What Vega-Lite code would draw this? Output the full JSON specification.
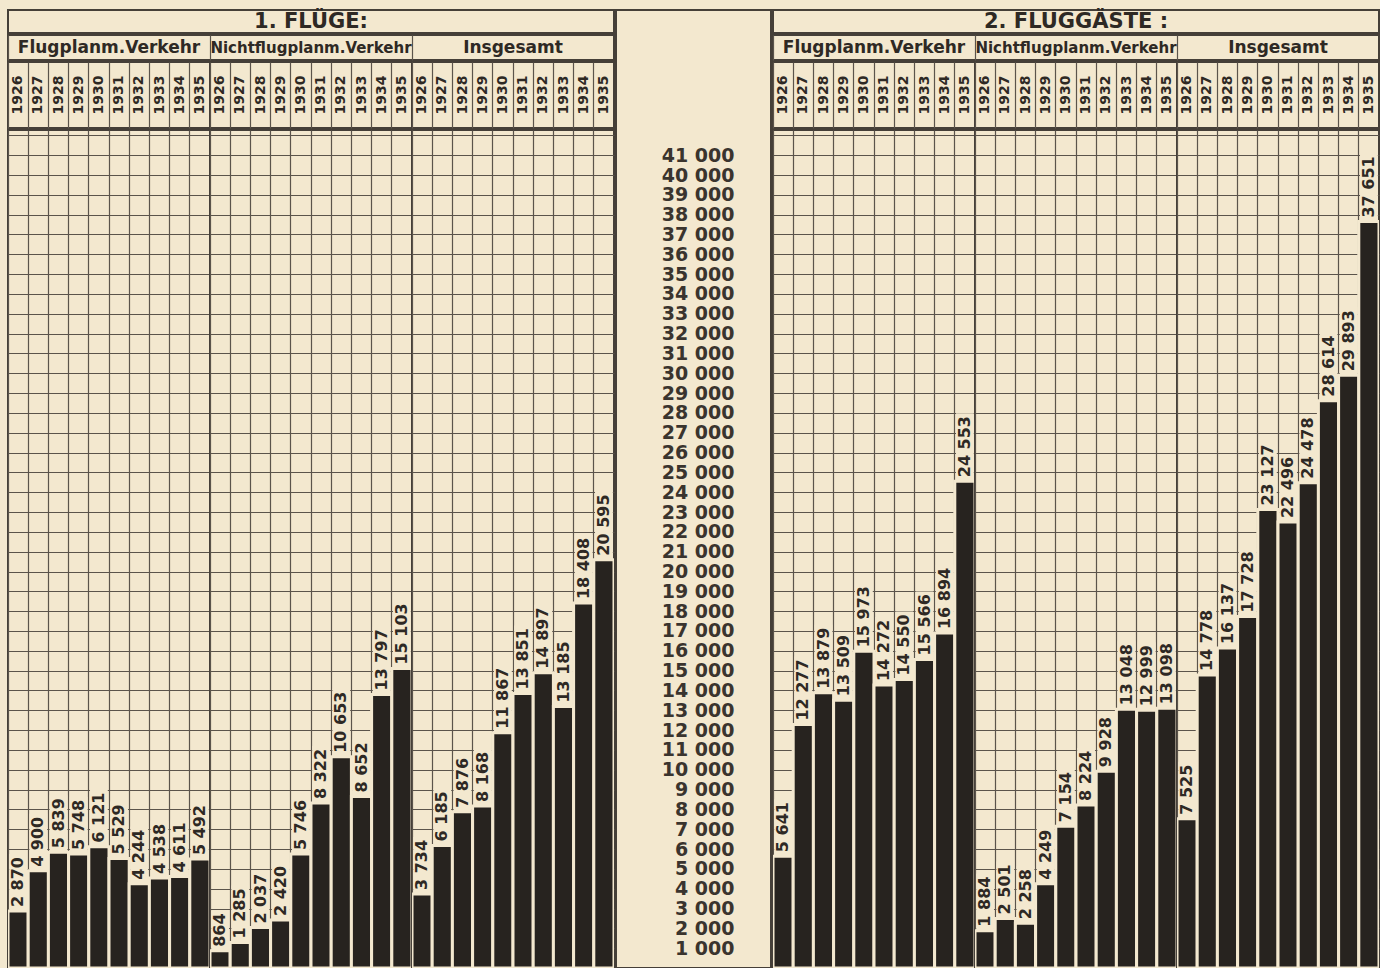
{
  "$schema": "https://vega.github.io/schema/vega-lite/v6.json",
  "padding": {"left": 7, "top": 9, "right": 0, "bottom": 0},
  "background": "#f3e8cf",
  "config": {
    "locale": {"number": {"decimal": ",", "thousands": " ", "grouping": [3], "currency": ["", ""]}},
    "view": {"stroke": "#453f38", "strokeWidth": 2},
    "font": "DejaVu Sans",
    "axis": {"gridColor": "#5b544b", "gridWidth": 1.2, "gridOpacity": 1, "labels": false, "ticks": false, "domain": false, "title": null},
    "text": {"font": "DejaVu Sans", "fontWeight": "bold", "fill": "#2e2924"}
  },
  "datasets": {
    "panels": [
      {"p": "Flugplanm.Verkehr"},
      {"p": "Nichtflugplanm.Verkehr"},
      {"p": "Insgesamt"}
    ],
    "fluege": [
      {"p": "Flugplanm.Verkehr", "y": "1926", "v": 2870},
      {"p": "Flugplanm.Verkehr", "y": "1927", "v": 4900},
      {"p": "Flugplanm.Verkehr", "y": "1928", "v": 5839},
      {"p": "Flugplanm.Verkehr", "y": "1929", "v": 5748},
      {"p": "Flugplanm.Verkehr", "y": "1930", "v": 6121},
      {"p": "Flugplanm.Verkehr", "y": "1931", "v": 5529},
      {"p": "Flugplanm.Verkehr", "y": "1932", "v": 4244},
      {"p": "Flugplanm.Verkehr", "y": "1933", "v": 4538},
      {"p": "Flugplanm.Verkehr", "y": "1934", "v": 4611},
      {"p": "Flugplanm.Verkehr", "y": "1935", "v": 5492},
      {"p": "Nichtflugplanm.Verkehr", "y": "1926", "v": 864},
      {"p": "Nichtflugplanm.Verkehr", "y": "1927", "v": 1285},
      {"p": "Nichtflugplanm.Verkehr", "y": "1928", "v": 2037},
      {"p": "Nichtflugplanm.Verkehr", "y": "1929", "v": 2420},
      {"p": "Nichtflugplanm.Verkehr", "y": "1930", "v": 5746},
      {"p": "Nichtflugplanm.Verkehr", "y": "1931", "v": 8322},
      {"p": "Nichtflugplanm.Verkehr", "y": "1932", "v": 10653},
      {"p": "Nichtflugplanm.Verkehr", "y": "1933", "v": 8652},
      {"p": "Nichtflugplanm.Verkehr", "y": "1934", "v": 13797},
      {"p": "Nichtflugplanm.Verkehr", "y": "1935", "v": 15103},
      {"p": "Insgesamt", "y": "1926", "v": 3734},
      {"p": "Insgesamt", "y": "1927", "v": 6185},
      {"p": "Insgesamt", "y": "1928", "v": 7876},
      {"p": "Insgesamt", "y": "1929", "v": 8168},
      {"p": "Insgesamt", "y": "1930", "v": 11867},
      {"p": "Insgesamt", "y": "1931", "v": 13851},
      {"p": "Insgesamt", "y": "1932", "v": 14897},
      {"p": "Insgesamt", "y": "1933", "v": 13185},
      {"p": "Insgesamt", "y": "1934", "v": 18408},
      {"p": "Insgesamt", "y": "1935", "v": 20595}
    ],
    "fluggaeste": [
      {"p": "Flugplanm.Verkehr", "y": "1926", "v": 5641},
      {"p": "Flugplanm.Verkehr", "y": "1927", "v": 12277},
      {"p": "Flugplanm.Verkehr", "y": "1928", "v": 13879},
      {"p": "Flugplanm.Verkehr", "y": "1929", "v": 13509},
      {"p": "Flugplanm.Verkehr", "y": "1930", "v": 15973},
      {"p": "Flugplanm.Verkehr", "y": "1931", "v": 14272},
      {"p": "Flugplanm.Verkehr", "y": "1932", "v": 14550},
      {"p": "Flugplanm.Verkehr", "y": "1933", "v": 15566},
      {"p": "Flugplanm.Verkehr", "y": "1934", "v": 16894},
      {"p": "Flugplanm.Verkehr", "y": "1935", "v": 24553},
      {"p": "Nichtflugplanm.Verkehr", "y": "1926", "v": 1884},
      {"p": "Nichtflugplanm.Verkehr", "y": "1927", "v": 2501},
      {"p": "Nichtflugplanm.Verkehr", "y": "1928", "v": 2258},
      {"p": "Nichtflugplanm.Verkehr", "y": "1929", "v": 4249},
      {"p": "Nichtflugplanm.Verkehr", "y": "1930", "v": 7154},
      {"p": "Nichtflugplanm.Verkehr", "y": "1931", "v": 8224},
      {"p": "Nichtflugplanm.Verkehr", "y": "1932", "v": 9928},
      {"p": "Nichtflugplanm.Verkehr", "y": "1933", "v": 13048},
      {"p": "Nichtflugplanm.Verkehr", "y": "1934", "v": 12999},
      {"p": "Nichtflugplanm.Verkehr", "y": "1935", "v": 13098},
      {"p": "Insgesamt", "y": "1926", "v": 7525},
      {"p": "Insgesamt", "y": "1927", "v": 14778},
      {"p": "Insgesamt", "y": "1928", "v": 16137},
      {"p": "Insgesamt", "y": "1929", "v": 17728},
      {"p": "Insgesamt", "y": "1930", "v": 23127},
      {"p": "Insgesamt", "y": "1931", "v": 22496},
      {"p": "Insgesamt", "y": "1932", "v": 24478},
      {"p": "Insgesamt", "y": "1933", "v": 28614},
      {"p": "Insgesamt", "y": "1934", "v": 29893},
      {"p": "Insgesamt", "y": "1935", "v": 37651}
    ]
  },
  "spacing": 0,
  "hconcat": [
    {
      "spacing": 0,
      "vconcat": [
        {"width": 606, "height": 23, "data": {"values": [{"t": "1. FLÜGE:"}]}, "mark": {"type": "text", "fontSize": 21, "baseline": "middle"},
         "encoding": {"x": {"field": "t", "type": "nominal", "scale": {"type": "band", "paddingInner": 0, "paddingOuter": 0}, "axis": null}, "text": {"field": "t"}}},
        {"width": 606, "height": 25, "data": {"name": "panels"}, "mark": {"type": "text", "baseline": "middle"},
         "encoding": {"x": {"field": "p", "type": "nominal", "sort": null, "scale": {"type": "band", "paddingInner": 0, "paddingOuter": 0}, "axis": {"grid": true, "bandPosition": 0}}, "text": {"field": "p"},
           "size": {"condition": {"test": "datum.p == 'Nichtflugplanm.Verkehr'", "value": 15}, "value": 17}}},
        {"spacing": 0, "bounds": "flush", "hconcat": [
          {"width": 202, "height": 66, "data": {"name": "fluege"}, "transform": [{"filter": "datum.p == 'Flugplanm.Verkehr'"}], "mark": {"type": "text", "angle": 270, "fontSize": 14, "baseline": "middle", "align": "center"},
           "encoding": {"x": {"field": "y", "type": "ordinal", "scale": {"type": "band", "paddingInner": 0, "paddingOuter": 0}, "axis": {"grid": true, "bandPosition": 0}}, "text": {"field": "y"}}},
          {"width": 202, "height": 66, "data": {"name": "fluege"}, "transform": [{"filter": "datum.p == 'Nichtflugplanm.Verkehr'"}], "mark": {"type": "text", "angle": 270, "fontSize": 14, "baseline": "middle", "align": "center"},
           "encoding": {"x": {"field": "y", "type": "ordinal", "scale": {"type": "band", "paddingInner": 0, "paddingOuter": 0}, "axis": {"grid": true, "bandPosition": 0}}, "text": {"field": "y"}}},
          {"width": 202, "height": 66, "data": {"name": "fluege"}, "transform": [{"filter": "datum.p == 'Insgesamt'"}], "mark": {"type": "text", "angle": 270, "fontSize": 14, "baseline": "middle", "align": "center"},
           "encoding": {"x": {"field": "y", "type": "ordinal", "scale": {"type": "band", "paddingInner": 0, "paddingOuter": 0}, "axis": {"grid": true, "bandPosition": 0}}, "text": {"field": "y"}}}
        ]},
        {"spacing": 0, "bounds": "flush", "hconcat": [
          {"width": 202, "height": 838, "data": {"name": "fluege"}, "transform": [{"filter": "datum.p == 'Flugplanm.Verkehr'"}],
           "encoding": {
             "x": {"field": "y", "type": "ordinal", "scale": {"type": "band", "paddingInner": 0, "paddingOuter": 0}, "axis": {"grid": true, "bandPosition": 0}},
             "y": {"field": "v", "type": "quantitative", "scale": {"domain": [0, 42270], "nice": false}, "axis": {"grid": true, "tickCount": 42}}
           },
           "layer": [
             {"mark": {"type": "bar", "fill": "#f3e8cf", "clip": true, "width": {"band": 0.88}, "y2Offset": {"expr": "datum.v >= 10000 ? -68 : datum.v >= 1000 ? -57 : -40"}}, "encoding": {"y2": {"field": "v"}}},
             {"mark": {"type": "bar", "fill": "#27231f", "stroke": "#f3e8cf", "strokeWidth": 3, "clip": true}},
             {"mark": {"type": "text", "angle": 270, "align": "left", "baseline": "middle", "fontSize": 16, "yOffset": -4}, "encoding": {"text": {"field": "v", "type": "quantitative", "format": ",d"}}}
           ]},
          {"width": 202, "height": 838, "data": {"name": "fluege"}, "transform": [{"filter": "datum.p == 'Nichtflugplanm.Verkehr'"}],
           "encoding": {
             "x": {"field": "y", "type": "ordinal", "scale": {"type": "band", "paddingInner": 0, "paddingOuter": 0}, "axis": {"grid": true, "bandPosition": 0}},
             "y": {"field": "v", "type": "quantitative", "scale": {"domain": [0, 42270], "nice": false}, "axis": {"grid": true, "tickCount": 42}}
           },
           "layer": [
             {"mark": {"type": "bar", "fill": "#f3e8cf", "clip": true, "width": {"band": 0.88}, "y2Offset": {"expr": "datum.v >= 10000 ? -68 : datum.v >= 1000 ? -57 : -40"}}, "encoding": {"y2": {"field": "v"}}},
             {"mark": {"type": "bar", "fill": "#27231f", "stroke": "#f3e8cf", "strokeWidth": 3, "clip": true}},
             {"mark": {"type": "text", "angle": 270, "align": "left", "baseline": "middle", "fontSize": 16, "yOffset": -4}, "encoding": {"text": {"field": "v", "type": "quantitative", "format": ",d"}}}
           ]},
          {"width": 202, "height": 838, "data": {"name": "fluege"}, "transform": [{"filter": "datum.p == 'Insgesamt'"}],
           "encoding": {
             "x": {"field": "y", "type": "ordinal", "scale": {"type": "band", "paddingInner": 0, "paddingOuter": 0}, "axis": {"grid": true, "bandPosition": 0}},
             "y": {"field": "v", "type": "quantitative", "scale": {"domain": [0, 42270], "nice": false}, "axis": {"grid": true, "tickCount": 42}}
           },
           "layer": [
             {"mark": {"type": "bar", "fill": "#f3e8cf", "clip": true, "width": {"band": 0.88}, "y2Offset": {"expr": "datum.v >= 10000 ? -68 : datum.v >= 1000 ? -57 : -40"}}, "encoding": {"y2": {"field": "v"}}},
             {"mark": {"type": "bar", "fill": "#27231f", "stroke": "#f3e8cf", "strokeWidth": 3, "clip": true}},
             {"mark": {"type": "text", "angle": 270, "align": "left", "baseline": "middle", "fontSize": 16, "yOffset": -4}, "encoding": {"text": {"field": "v", "type": "quantitative", "format": ",d"}}}
           ]}
        ]}
      ]
    },
    {"width": 155, "height": 958, "data": {"name": "fluege"},
     "mark": {"type": "tick", "opacity": 0},
     "encoding": {"y": {"field": "v", "type": "quantitative", "scale": {"domain": [0, 48323], "nice": false},
       "axis": {"labels": true, "grid": false, "values": [1000, 2000, 3000, 4000, 5000, 6000, 7000, 8000, 9000, 10000, 11000, 12000, 13000, 14000, 15000, 16000, 17000, 18000, 19000, 20000, 21000, 22000, 23000, 24000, 25000, 26000, 27000, 28000, 29000, 30000, 31000, 32000, 33000, 34000, 35000, 36000, 37000, 38000, 39000, 40000, 41000],
         "format": ",d", "labelPadding": -118, "tickSize": 0, "labelOverlap": false, "labelFont": "DejaVu Sans", "labelFontWeight": "bold", "labelFontSize": 19, "labelColor": "#3a342e", "labelAlign": "right", "labelBaseline": "middle"}}}},
    {
      "spacing": 0,
      "vconcat": [
        {"width": 606, "height": 23, "data": {"values": [{"t": "2. FLUGGÄSTE :"}]}, "mark": {"type": "text", "fontSize": 21, "baseline": "middle"},
         "encoding": {"x": {"field": "t", "type": "nominal", "scale": {"type": "band", "paddingInner": 0, "paddingOuter": 0}, "axis": null}, "text": {"field": "t"}}},
        {"width": 606, "height": 25, "data": {"name": "panels"}, "mark": {"type": "text", "baseline": "middle"},
         "encoding": {"x": {"field": "p", "type": "nominal", "sort": null, "scale": {"type": "band", "paddingInner": 0, "paddingOuter": 0}, "axis": {"grid": true, "bandPosition": 0}}, "text": {"field": "p"},
           "size": {"condition": {"test": "datum.p == 'Nichtflugplanm.Verkehr'", "value": 15}, "value": 17}}},
        {"spacing": 0, "bounds": "flush", "hconcat": [
          {"width": 202, "height": 66, "data": {"name": "fluggaeste"}, "transform": [{"filter": "datum.p == 'Flugplanm.Verkehr'"}], "mark": {"type": "text", "angle": 270, "fontSize": 14, "baseline": "middle", "align": "center"},
           "encoding": {"x": {"field": "y", "type": "ordinal", "scale": {"type": "band", "paddingInner": 0, "paddingOuter": 0}, "axis": {"grid": true, "bandPosition": 0}}, "text": {"field": "y"}}},
          {"width": 202, "height": 66, "data": {"name": "fluggaeste"}, "transform": [{"filter": "datum.p == 'Nichtflugplanm.Verkehr'"}], "mark": {"type": "text", "angle": 270, "fontSize": 14, "baseline": "middle", "align": "center"},
           "encoding": {"x": {"field": "y", "type": "ordinal", "scale": {"type": "band", "paddingInner": 0, "paddingOuter": 0}, "axis": {"grid": true, "bandPosition": 0}}, "text": {"field": "y"}}},
          {"width": 202, "height": 66, "data": {"name": "fluggaeste"}, "transform": [{"filter": "datum.p == 'Insgesamt'"}], "mark": {"type": "text", "angle": 270, "fontSize": 14, "baseline": "middle", "align": "center"},
           "encoding": {"x": {"field": "y", "type": "ordinal", "scale": {"type": "band", "paddingInner": 0, "paddingOuter": 0}, "axis": {"grid": true, "bandPosition": 0}}, "text": {"field": "y"}}}
        ]},
        {"spacing": 0, "bounds": "flush", "hconcat": [
          {"width": 202, "height": 838, "data": {"name": "fluggaeste"}, "transform": [{"filter": "datum.p == 'Flugplanm.Verkehr'"}],
           "encoding": {
             "x": {"field": "y", "type": "ordinal", "scale": {"type": "band", "paddingInner": 0, "paddingOuter": 0}, "axis": {"grid": true, "bandPosition": 0}},
             "y": {"field": "v", "type": "quantitative", "scale": {"domain": [0, 42270], "nice": false}, "axis": {"grid": true, "tickCount": 42}}
           },
           "layer": [
             {"mark": {"type": "bar", "fill": "#f3e8cf", "clip": true, "width": {"band": 0.88}, "y2Offset": {"expr": "datum.v >= 10000 ? -68 : datum.v >= 1000 ? -57 : -40"}}, "encoding": {"y2": {"field": "v"}}},
             {"mark": {"type": "bar", "fill": "#27231f", "stroke": "#f3e8cf", "strokeWidth": 3, "clip": true}},
             {"mark": {"type": "text", "angle": 270, "align": "left", "baseline": "middle", "fontSize": 16, "yOffset": -4}, "encoding": {"text": {"field": "v", "type": "quantitative", "format": ",d"}}}
           ]},
          {"width": 202, "height": 838, "data": {"name": "fluggaeste"}, "transform": [{"filter": "datum.p == 'Nichtflugplanm.Verkehr'"}],
           "encoding": {
             "x": {"field": "y", "type": "ordinal", "scale": {"type": "band", "paddingInner": 0, "paddingOuter": 0}, "axis": {"grid": true, "bandPosition": 0}},
             "y": {"field": "v", "type": "quantitative", "scale": {"domain": [0, 42270], "nice": false}, "axis": {"grid": true, "tickCount": 42}}
           },
           "layer": [
             {"mark": {"type": "bar", "fill": "#f3e8cf", "clip": true, "width": {"band": 0.88}, "y2Offset": {"expr": "datum.v >= 10000 ? -68 : datum.v >= 1000 ? -57 : -40"}}, "encoding": {"y2": {"field": "v"}}},
             {"mark": {"type": "bar", "fill": "#27231f", "stroke": "#f3e8cf", "strokeWidth": 3, "clip": true}},
             {"mark": {"type": "text", "angle": 270, "align": "left", "baseline": "middle", "fontSize": 16, "yOffset": -4}, "encoding": {"text": {"field": "v", "type": "quantitative", "format": ",d"}}}
           ]},
          {"width": 202, "height": 838, "data": {"name": "fluggaeste"}, "transform": [{"filter": "datum.p == 'Insgesamt'"}],
           "encoding": {
             "x": {"field": "y", "type": "ordinal", "scale": {"type": "band", "paddingInner": 0, "paddingOuter": 0}, "axis": {"grid": true, "bandPosition": 0}},
             "y": {"field": "v", "type": "quantitative", "scale": {"domain": [0, 42270], "nice": false}, "axis": {"grid": true, "tickCount": 42}}
           },
           "layer": [
             {"mark": {"type": "bar", "fill": "#f3e8cf", "clip": true, "width": {"band": 0.88}, "y2Offset": {"expr": "datum.v >= 10000 ? -68 : datum.v >= 1000 ? -57 : -40"}}, "encoding": {"y2": {"field": "v"}}},
             {"mark": {"type": "bar", "fill": "#27231f", "stroke": "#f3e8cf", "strokeWidth": 3, "clip": true}},
             {"mark": {"type": "text", "angle": 270, "align": "left", "baseline": "middle", "fontSize": 16, "yOffset": -4}, "encoding": {"text": {"field": "v", "type": "quantitative", "format": ",d"}}}
           ]}
        ]}
      ]
    }
  ]
}
